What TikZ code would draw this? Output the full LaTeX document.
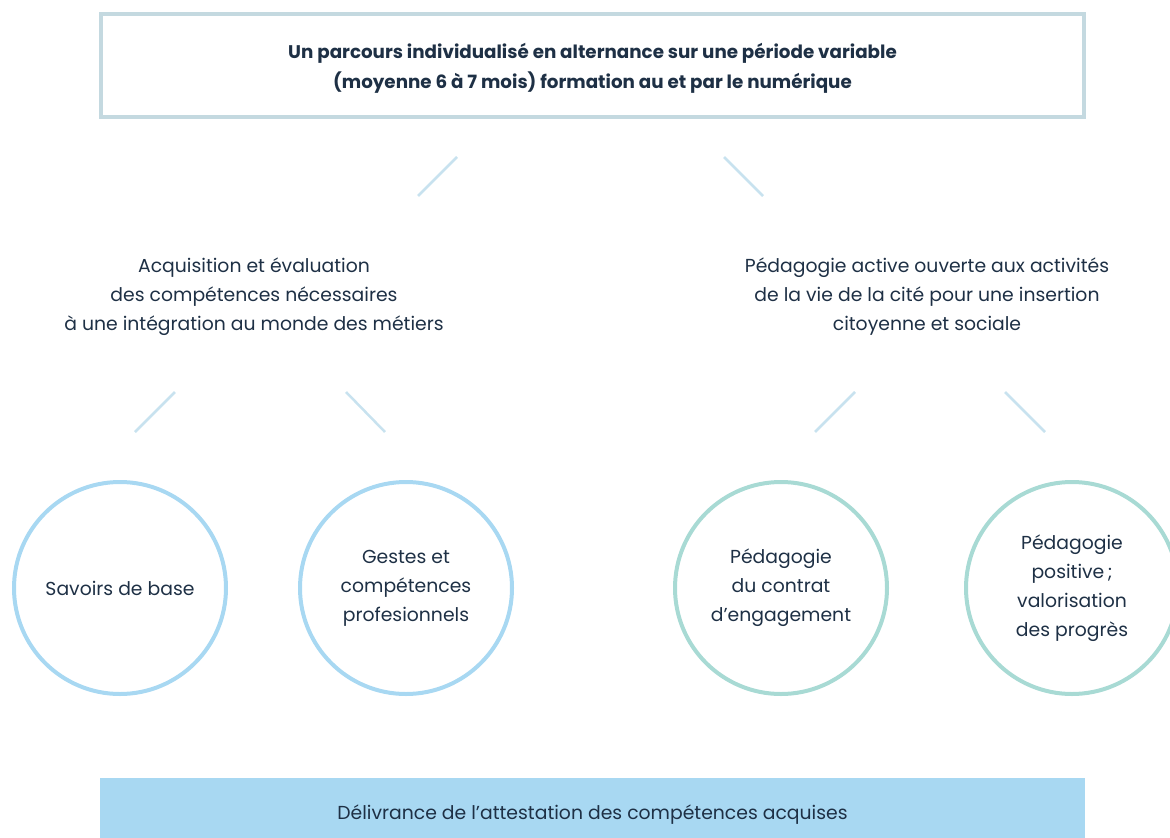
\documentclass[tikz,border=0pt]{standalone}
\usepackage{fontspec}
\setmainfont{Poppins}
\definecolor{txt}{HTML}{1E3045}
\definecolor{boxline}{HTML}{C4D9E0}
\definecolor{lnk}{HTML}{C8E2EF}
\definecolor{cblue}{HTML}{A8D8F2}
\definecolor{cteal}{HTML}{A8DAD4}
\definecolor{barfill}{HTML}{A8D8F2}
\begin{document}
\begin{tikzpicture}[x=1pt,y=-1pt,
  every node/.style={text=txt,font=\fontsize{18.8}{29}\selectfont,align=center,inner sep=0pt},
  link/.style={draw=lnk,line width=2.5pt},
  circ/.style={circle,minimum size=212pt,line width=4pt},
  bluecirc/.style={circ,draw=cblue},
  tealcirc/.style={circ,draw=cteal}]
\useasboundingbox (0,0) rectangle (1170,838);
\node[draw=boxline,line width=4pt,minimum width=983pt,minimum height=103pt] (top) at (592.5,65) {};
\node[font=\bfseries\fontsize{18.3}{30}\selectfont] (toptext) at (592.5,68) {Un parcours individualisé en alternance sur une période variable\\(moyenne 6 à 7 mois) formation au et par le numérique};
\node (left) at (254,297) {Acquisition et évaluation\\des compétences nécessaires\\à une intégration au monde des métiers};
\node (right) at (927,297) {Pédagogie active ouverte aux activités\\de la vie de la cité pour une insertion\\citoyenne et sociale};
\node[bluecirc] (c1) at (120,588) {Savoirs de base};
\node[bluecirc] (c2) at (406,588) {Gestes et\\compétences\\profesionnels};
\node[tealcirc] (c3) at (781,588) {Pédagogie\\du contrat\\d’engagement};
\node[tealcirc] (c4) at (1072,588) {Pédagogie\\positive\,;\\valorisation\\des progrès};
\node[fill=barfill,minimum width=985pt,minimum height=62pt] (bar) at (592.5,809) {};
\node (bartext) at (592.5,815) {Délivrance de l’attestation des compétences acquises};
\coordinate (a1) at (457,157); \coordinate (a2) at (418,196);
\coordinate (b1) at (724,157); \coordinate (b2) at (763,196);
\coordinate (d1) at (175,392); \coordinate (d2) at (135,432);
\coordinate (e1) at (346,392); \coordinate (e2) at (385,432);
\coordinate (f1) at (855,392); \coordinate (f2) at (815,432);
\coordinate (g1) at (1005,392); \coordinate (g2) at (1045,432);
\draw[link] (a1) -- (a2);
\draw[link] (b1) -- (b2);
\draw[link] (d1) -- (d2);
\draw[link] (e1) -- (e2);
\draw[link] (f1) -- (f2);
\draw[link] (g1) -- (g2);
\end{tikzpicture}
\end{document}
